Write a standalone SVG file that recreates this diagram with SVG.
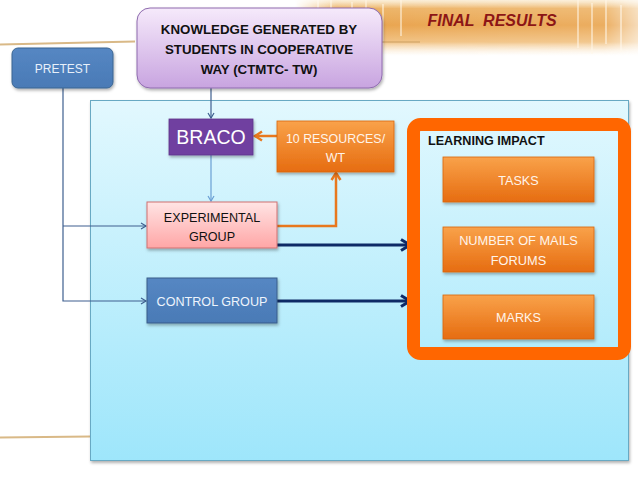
<svg xmlns="http://www.w3.org/2000/svg" width="638" height="479" viewBox="0 0 638 479">
<defs>
<style>
text{font-family:"Liberation Sans",Arial,sans-serif;text-anchor:middle}
.w{fill:#ffffff}
.b{fill:#111111}
.thin{fill:none;stroke:#3E5F8F;stroke-width:1.2}
.org{fill:none;stroke:#E8781E;stroke-width:2.5}
.navy{fill:none;stroke:#0E2A66;stroke-width:3}
.ob{fill:url(#gOrange);stroke:#D9650F;stroke-width:0.8}
.st{stroke:#FFF6E6;stroke-width:1.5;opacity:0.7}
</style>
<linearGradient id="gPanel" x1="0" y1="0" x2="0" y2="1"><stop offset="0" stop-color="#E2F8FE"/><stop offset="1" stop-color="#9EE6FB"/></linearGradient>
<linearGradient id="gPurple" x1="0" y1="0" x2="0" y2="1"><stop offset="0" stop-color="#F6EAFB"/><stop offset="1" stop-color="#C8A4E0"/></linearGradient>
<linearGradient id="gOrange" x1="0" y1="0" x2="0" y2="1"><stop offset="0" stop-color="#F9A24A"/><stop offset="1" stop-color="#E66C10"/></linearGradient>
<linearGradient id="gPink" x1="0" y1="0" x2="0" y2="1"><stop offset="0" stop-color="#FFE4E4"/><stop offset="1" stop-color="#FFA6A6"/></linearGradient>
<linearGradient id="gBlue" x1="0" y1="0" x2="0" y2="1"><stop offset="0" stop-color="#5587C3"/><stop offset="1" stop-color="#4A7AB6"/></linearGradient>
<linearGradient id="gBand" x1="0" y1="0" x2="0" y2="1"><stop offset="0" stop-color="#F6DDB0" stop-opacity="0.5"/><stop offset="0.15" stop-color="#EDB468"/><stop offset="0.45" stop-color="#E9A44E"/><stop offset="0.75" stop-color="#F1C283"/><stop offset="1" stop-color="#FBEBD2" stop-opacity="0"/></linearGradient>
<linearGradient id="gBandH" x1="0" y1="0" x2="1" y2="0"><stop offset="0" stop-color="#fff" stop-opacity="0"/><stop offset="0.12" stop-color="#fff" stop-opacity="1"/><stop offset="0.9" stop-color="#fff" stop-opacity="0.9"/><stop offset="1" stop-color="#fff" stop-opacity="0.4"/></linearGradient>
<mask id="mBand"><rect x="295" y="0" width="343" height="56" fill="url(#gBandH)"/></mask>
<filter id="sh" x="-10%" y="-10%" width="130%" height="140%"><feDropShadow dx="1" dy="2" stdDeviation="1.5" flood-color="#000" flood-opacity="0.3"/></filter>
<marker id="aThin" markerWidth="8" markerHeight="8" refX="6" refY="4" orient="auto" markerUnits="userSpaceOnUse"><path d="M1,1 L6,4 L1,7" fill="none" stroke="#3E5F8F" stroke-width="1.2"/></marker>
<marker id="aLight" markerWidth="8" markerHeight="8" refX="6" refY="4" orient="auto" markerUnits="userSpaceOnUse"><path d="M1,1 L6,4 L1,7" fill="none" stroke="#6A9FD4" stroke-width="1.2"/></marker>
<marker id="aOrg" markerWidth="12" markerHeight="12" refX="9" refY="6" orient="auto" markerUnits="userSpaceOnUse"><path d="M2,1.5 L9,6 L2,10.5" fill="none" stroke="#E8781E" stroke-width="2.5"/></marker>
<marker id="aNavy" markerWidth="14" markerHeight="14" refX="11" refY="7" orient="auto" markerUnits="userSpaceOnUse"><path d="M2,1.5 L11,7 L2,12.5" fill="none" stroke="#0E2A66" stroke-width="3"/></marker>
</defs>

<rect width="638" height="479" fill="#ffffff"/>

<!-- decorative band -->
<g id="decor">
<g mask="url(#mBand)">
<rect x="295" y="0" width="343" height="56" fill="url(#gBand)"/>
<path class="st" d="M318,0 V50 M331,0 V40 M352,2 V54 M366,0 V46 M383,4 V52 M401,0 V36 M578,0 V48 M592,3 V54 M606,0 V44 M621,5 V52"/>
</g>
<path d="M0,44.5 L135,41.5" stroke="#D9B987" stroke-width="2.2" fill="none"/>
<path d="M382,42 L420,42" stroke="#C79A5C" stroke-width="1.5" fill="none" opacity="0.6"/>
<path d="M0,437.5 L90,436.5" stroke="#D9B987" stroke-width="2.2" fill="none"/>
</g>

<g id="title"><text x="492" y="26" font-size="16" font-weight="bold" font-style="italic" fill="#8C1616" xml:space="preserve">FINAL  RESULTS</text></g>

<g id="panel"><rect x="90.5" y="100.5" width="538" height="360" fill="url(#gPanel)" stroke="#68A9C3" stroke-width="1" filter="url(#sh)"/></g>

<g id="connectors">
<path class="thin" d="M211,88 V118" marker-end="url(#aThin)"/>
<path d="M211,155 V201" fill="none" stroke="#6A9FD4" stroke-width="1.2" marker-end="url(#aLight)"/>
<path class="thin" d="M63,88 V301 H146" marker-end="url(#aThin)"/>
<path class="thin" d="M63,226 H146" marker-end="url(#aThin)"/>
<path class="org" d="M277,136 H255" marker-end="url(#aOrg)"/>
<path class="org" d="M277,226 H336 V173" marker-end="url(#aOrg)"/>
<path class="navy" d="M275,245 H410" marker-end="url(#aNavy)"/>
<path class="navy" d="M277,301 H410" marker-end="url(#aNavy)"/>
</g>

<g id="pretest">
<rect x="12" y="48" width="101" height="40" rx="6" fill="url(#gBlue)" stroke="#3A6591" stroke-width="1" filter="url(#sh)"/>
<text x="62.5" y="72.5" font-size="12" fill="#E8F0FA">PRETEST</text>
</g>

<g id="knowledge">
<rect x="137" y="8" width="245" height="80" rx="13" fill="url(#gPurple)" stroke="#8E6BAE" stroke-width="1" filter="url(#sh)"/>
<text x="259" y="33.5" font-size="13.3" font-weight="bold" class="b">KNOWLEDGE GENERATED BY</text>
<text x="259" y="53.5" font-size="13.3" font-weight="bold" class="b">STUDENTS IN COOPERATIVE</text>
<text x="259" y="74" font-size="13.3" font-weight="bold" class="b">WAY (CTMTC- TW)</text>
</g>

<g id="braco">
<rect x="169" y="119" width="84" height="36" fill="#7040A0" stroke="#5E3389" stroke-width="0.8" filter="url(#sh)"/>
<text x="211" y="144" font-size="19.5" class="w">BRACO</text>
</g>

<g id="resources">
<rect x="277" y="121" width="117" height="51" class="ob" filter="url(#sh)"/>
<text x="335.5" y="142.5" font-size="12.4" fill="#FFF4EA">10 RESOURCES/</text>
<text x="335.5" y="161.5" font-size="12.4" fill="#FFF4EA">WT</text>
</g>

<g id="experimental">
<rect x="147" y="202" width="130" height="46" fill="url(#gPink)" stroke="#D07070" stroke-width="1" filter="url(#sh)"/>
<text x="212" y="221.5" font-size="12.6" class="b">EXPERIMENTAL</text>
<text x="212" y="240.5" font-size="12.6" class="b">GROUP</text>
</g>

<g id="control">
<rect x="147" y="278" width="130" height="45" fill="url(#gBlue)" stroke="#385D8A" stroke-width="1" filter="url(#sh)"/>
<text x="212" y="305.5" font-size="12.6" fill="#EEF4FC">CONTROL GROUP</text>
</g>

<g id="learning-impact">
<rect x="413.5" y="124.5" width="211" height="229" rx="7" fill="none" stroke="#FF6600" stroke-width="13"/>
<text x="428" y="145" font-size="12.6" font-weight="bold" class="b" style="text-anchor:start">LEARNING IMPACT</text>
</g>

<g id="tasks">
<rect x="443" y="157" width="151" height="45" class="ob" filter="url(#sh)"/>
<text x="518.5" y="184.5" font-size="12.6" fill="#FFF4EA">TASKS</text>
</g>

<g id="mails">
<rect x="443" y="227" width="151" height="45" class="ob" filter="url(#sh)"/>
<text x="518.5" y="244.5" font-size="12.8" fill="#FFF4EA">NUMBER OF MAILS</text>
<text x="518.5" y="264.5" font-size="12.8" fill="#FFF4EA">FORUMS</text>
</g>

<g id="marks">
<rect x="443" y="295" width="151" height="44" class="ob" filter="url(#sh)"/>
<text x="518.5" y="321.5" font-size="12.6" fill="#FFF4EA">MARKS</text>
</g>
</svg>
